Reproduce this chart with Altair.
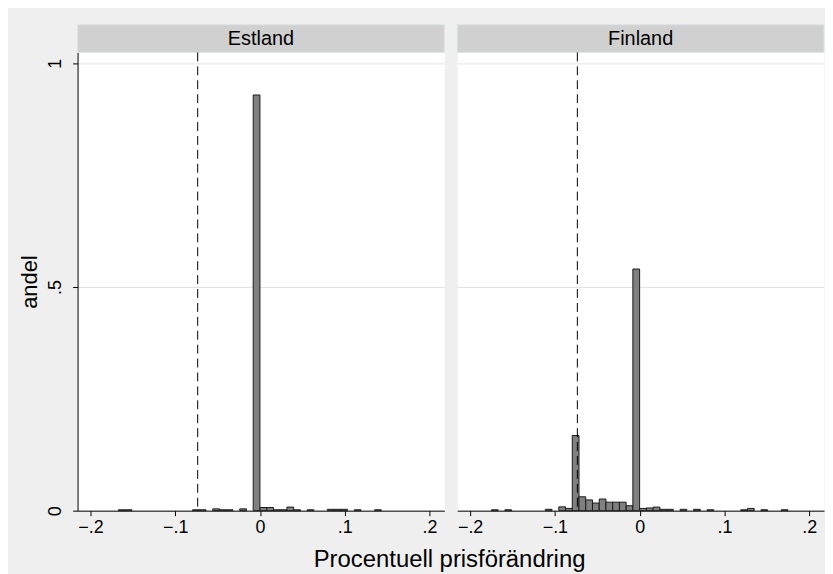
import altair as alt
import pandas as pd

countries = ["Estland", "Finland"]
bin_width = 0.00795
ref_line = -0.0735

est_lo = [-0.1670, -0.1590, -0.0795, -0.0716, -0.0557, -0.0477, -0.0398, -0.0239, -0.0080, 0.0,
          0.0080, 0.0159, 0.0239, 0.0318, 0.0398, 0.0557, 0.0795, 0.0875, 0.0954, 0.1113, 0.1352]
est_h = [0.002, 0.002, 0.002, 0.002, 0.004, 0.002, 0.002, 0.004, 0.929, 0.007,
         0.007, 0.002, 0.002, 0.008, 0.002, 0.002, 0.003, 0.003, 0.003, 0.002, 0.002]

fin_lo = [-0.1749, -0.1590, -0.1113, -0.0954, -0.0875, -0.0795, -0.0716, -0.0636, -0.0557, -0.0477,
          -0.0398, -0.0318, -0.0239, -0.0159, -0.0080, 0.0, 0.0080, 0.0159, 0.0239, 0.0318,
          0.0477, 0.0636, 0.0795, 0.1193, 0.1272, 0.1431, 0.1670]
fin_h = [0.002, 0.002, 0.003, 0.0085, 0.005, 0.168, 0.031, 0.024, 0.017, 0.026,
         0.019, 0.019, 0.019, 0.011, 0.54, 0.005, 0.006, 0.008, 0.003, 0.003,
         0.003, 0.003, 0.002, 0.002, 0.005, 0.002, 0.002]

x_ticks = [-0.2, -0.1, 0.0, 0.1, 0.2]
y_ticks = [0.0, 0.5, 1.0]
x_title = "Procentuell prisförändring"
y_title = "andel"

FONT = "Liberation Sans"
W, H = 369, 461
LBL = "datum.value == 0 ? '0' : replace(format(datum.value, '.1~f'), '0.', '.')"

xscale = alt.Scale(domain=[-0.2152, 0.2175], nice=False, zero=False)
yscale = alt.Scale(domain=[0, 1.024], nice=False)


def panel(name, lo, h, first):
    df = pd.DataFrame({"lo": lo, "h": h})
    df["hi"] = df["lo"] + bin_width
    df["zero"] = 0.0

    xaxis = alt.Axis(values=x_ticks, labelExpr=LBL, title="", grid=False,
                     tickSize=5, tickColor="black", domainColor="black",
                     labelFontSize=18, labelColor="black", labelPadding=3,
                     labelFlush=False, labelFont=FONT)
    if first:
        yaxis = alt.Axis(values=y_ticks, labelExpr=LBL, title=y_title, grid=True,
                         gridColor="#e3e3e3", tickSize=5, tickColor="black",
                         domainColor="black", labelFontSize=18, labelColor="black",
                         labelAngle=270, labelAlign="center", labelBaseline="bottom",
                         labelPadding=8, labelFont=FONT, titleFont=FONT,
                         titleFontSize=22, titleFontWeight="normal", titleColor="black",
                         titlePadding=5)
    else:
        yaxis = alt.Axis(values=y_ticks, title="", grid=True, gridColor="#e3e3e3",
                         labels=False, ticks=False, domain=False)

    bars = alt.Chart(df).mark_rect(fill="#808080", stroke="#1a1a1a", strokeWidth=1).encode(
        x=alt.X("lo:Q", scale=xscale, axis=xaxis),
        x2="hi:Q",
        y=alt.Y("h:Q", scale=yscale, axis=yaxis),
        y2="zero:Q",
    )

    rule = alt.Chart(pd.DataFrame({"v": [ref_line]})).mark_rule(
        color="black", strokeWidth=1, strokeDash=[9, 5]
    ).encode(x=alt.X("v:Q", scale=xscale))

    sdf = pd.DataFrame({"c": [name]})
    strip = alt.Chart(sdf).mark_rect(fill="#d0d0d0", stroke="#dce5e7", strokeWidth=1).encode(
        x=alt.value(0), x2=alt.value(W), y=alt.value(-28), y2=alt.value(0)
    )
    stext = alt.Chart(sdf).mark_text(font=FONT, fontSize=20, color="black",
                                      baseline="middle", align="center").encode(
        x=alt.value(W / 2), y=alt.value(-14), text="c:N"
    )

    return alt.layer(strip, stext, bars, rule).properties(width=W, height=H)


chart = alt.hconcat(
    panel(countries[0], est_lo, est_h, True),
    panel(countries[1], fin_lo, fin_h, False),
    spacing=11,
).properties(
    title=alt.TitleParams(text=x_title, orient="bottom", anchor="middle", dx=28,
                          font=FONT, fontSize=24, fontWeight="normal", color="black",
                          offset=11),
    padding={"left": 10, "top": 14, "right": 0, "bottom": 2},
    background="#efefef",
).configure_view(fill="white", stroke="transparent")

chart.save("out.html", embed_options={"renderer": "svg", "actions": False})
